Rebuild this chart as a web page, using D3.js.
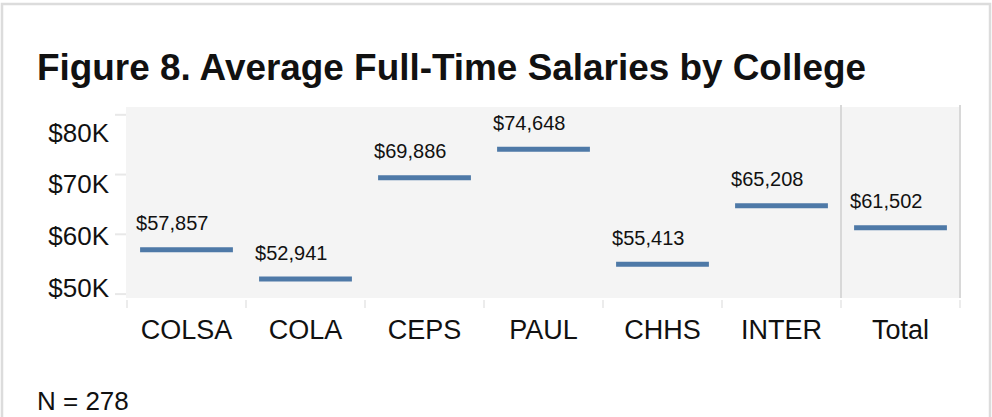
<!DOCTYPE html>
<html>
<head>
<meta charset="utf-8">
<script src="https://cdn.jsdelivr.net/npm/d3@7"></script>
<style>
  body { margin: 0; background: #fff; }
  svg text { font-family: "Liberation Sans", Arial, sans-serif; fill: #111; }
</style>
</head>
<body>
<div id="my_dataviz"></div>
<script>
// data
var colleges = ["COLSA", "COLA", "CEPS", "PAUL", "CHHS", "INTER", "Total"];
var salaries = [57857, 52941, 69886, 74648, 55413, 65208, 61502];
var yTickValues = [50000, 60000, 70000, 80000];
var yTickLabels = ["$80K", "$70K", "$60K", "$50K"];
var titleText = "Figure 8. Average Full-Time Salaries by College";
var noteText = "N = 278";

var width = 992, height = 417;
var plot = {left: 126, right: 960, top: 107, bottom: 298};

var svg = d3.select("#my_dataviz")
  .append("svg")
  .attr("width", width)
  .attr("height", height);

// outer frame
svg.append("rect")
  .attr("x", 2).attr("y", 4)
  .attr("width", 988).attr("height", 440)
  .attr("fill", "none")
  .attr("stroke", "#dcdcdc")
  .attr("stroke-width", 2.5);

svg.append("text")
  .attr("x", 37).attr("y", 80)
  .style("font-size", "36.9px")
  .style("font-weight", "bold")
  .text(titleText);

// scales
var x = d3.scaleBand()
  .domain(colleges)
  .range([plot.left + 1, plot.right]);

var y = d3.scaleLinear()
  .domain([50000, 80000])
  .range([296.6, 117.3]);

// plot background
svg.append("rect")
  .attr("x", plot.left).attr("y", plot.top)
  .attr("width", plot.right - plot.left)
  .attr("height", plot.bottom - plot.top)
  .attr("fill", "#f4f4f4");

// separator before Total and right edge
[x("Total"), plot.right].forEach(function(px) {
  svg.append("line")
    .attr("x1", px).attr("x2", px)
    .attr("y1", plot.top - 2).attr("y2", plot.bottom)
    .attr("stroke", "#d8d8d8")
    .attr("stroke-width", 2);
});

// left tick marks
var yAxis = svg.append("g")
  .attr("transform", "translate(" + plot.left + ",-3)")
  .call(d3.axisLeft(y).tickValues(yTickValues).tickSize(11).tickFormat(""));
yAxis.select(".domain").remove();
yAxis.selectAll("line").attr("stroke", "#e8e8e8").attr("stroke-width", 2);

// y labels (spaced evenly along the axis as in the figure)
var yLab = d3.scalePoint()
  .domain(yTickLabels)
  .range([141.5, 297]);
svg.selectAll(".ylab")
  .data(yTickLabels)
  .enter().append("text")
  .attr("class", "ylab")
  .attr("x", 109)
  .attr("y", function(d) { return yLab(d); })
  .attr("text-anchor", "end")
  .style("font-size", "26px")
  .text(function(d) { return d; });

// bottom band ticks
var xAxis = svg.append("g")
  .attr("transform", "translate(0," + plot.bottom + ")")
  .call(d3.axisBottom(x).tickSize(0).tickFormat(""));
xAxis.select(".domain").remove();
var edges = colleges.map(function(c) { return x(c); }).concat([plot.right]);
xAxis.selectAll(".edge")
  .data(edges)
  .enter().append("line")
  .attr("class", "edge")
  .attr("x1", function(d) { return d; })
  .attr("x2", function(d) { return d; })
  .attr("y1", 2).attr("y2", 10)
  .attr("stroke", "#ececec")
  .attr("stroke-width", 2);

svg.selectAll(".xlab")
  .data(colleges)
  .enter().append("text")
  .attr("class", "xlab")
  .attr("x", function(d) { return x(d) + x.bandwidth() / 2; })
  .attr("y", 339)
  .attr("text-anchor", "middle")
  .style("font-size", "27px")
  .text(function(d) { return d; });

// salary marks
var data = colleges.map(function(c, i) { return {College: c, Salary: salaries[i]}; });
var inset = x.bandwidth() * 0.11;
var fmt = d3.format("$,");

svg.selectAll(".mark")
  .data(data)
  .enter().append("line")
  .attr("class", "mark")
  .attr("x1", function(d) { return x(d.College) + inset; })
  .attr("x2", function(d) { return x(d.College) + x.bandwidth() - inset; })
  .attr("y1", function(d) { return y(d.Salary); })
  .attr("y2", function(d) { return y(d.Salary); })
  .attr("stroke", "#4e79a7")
  .attr("stroke-width", 5);

svg.selectAll(".vlab")
  .data(data)
  .enter().append("text")
  .attr("class", "vlab")
  .attr("x", function(d) { return x(d.College) + inset - 4; })
  .attr("y", function(d) { return y(d.Salary) - 19.5; })
  .style("font-size", "20px")
  .text(function(d) { return fmt(d.Salary); });

svg.append("text")
  .attr("x", 37).attr("y", 410)
  .style("font-size", "26px")
  .text(noteText);
</script>
</body>
</html>
